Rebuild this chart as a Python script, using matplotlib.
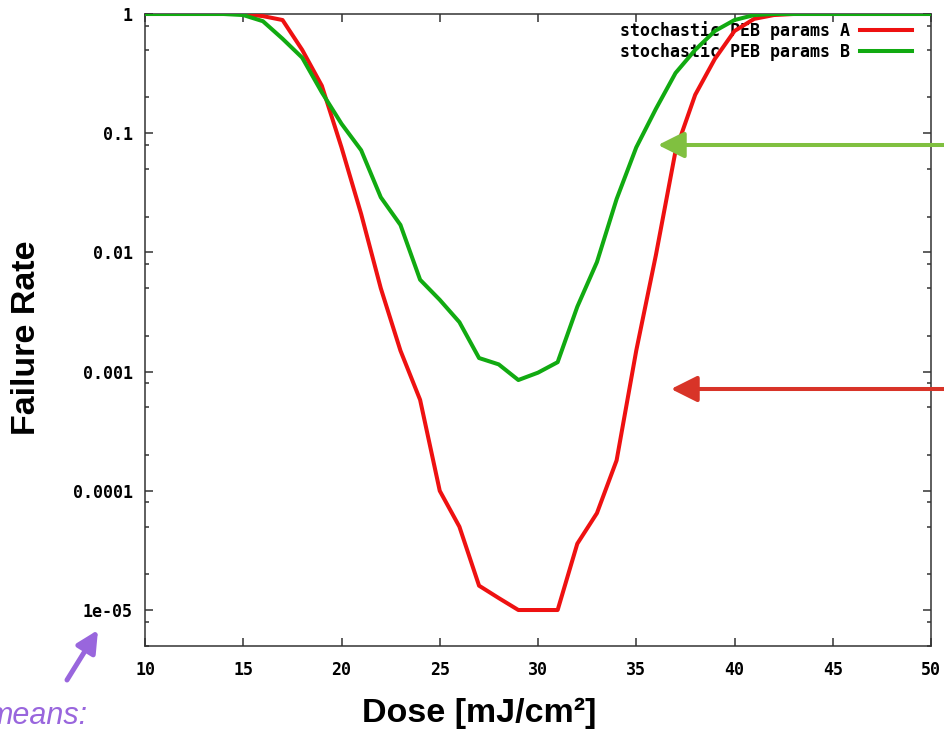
import numpy as np
import matplotlib.pyplot as plt
from matplotlib.ticker import LogLocator, NullFormatter

# failure rate vs. exposure dose for the two PEB parameter sets
dose = np.arange(10, 51)
rate_a = [1, 1, 1, 1, 1, 1, 0.96, 0.89, 0.50, 0.25,
          0.076, 0.021, 0.0050, 0.0015, 0.00058, 0.0001, 0.00005, 0.000016, 0.0000126, 0.00001,
          0.00001, 0.00001, 0.000036, 0.000065, 0.00018, 0.0015, 0.0095, 0.071, 0.21, 0.42,
          0.72, 0.91, 0.98, 1, 1, 1, 1, 1, 1, 1, 1]
rate_b = [1, 1, 1, 1, 1, 0.98, 0.87, 0.62, 0.43, 0.22,
          0.12, 0.072, 0.029, 0.017, 0.0059, 0.0040, 0.0026, 0.0013, 0.00115, 0.00085,
          0.00098, 0.0012, 0.0035, 0.0083, 0.028, 0.076, 0.16, 0.32, 0.50, 0.72,
          0.89, 0.98, 1, 1, 1, 1, 1, 1, 1, 1, 1]
label_a = "stochastic PEB params A"
label_b = "stochastic PEB params B"
ytick_vals = [1, 0.1, 0.01, 0.001, 0.0001, 0.00001]
ytick_text = ["1", "0.1", "0.01", "0.001", "0.0001", "1e-05"]
xtick_vals = [10, 15, 20, 25, 30, 35, 40, 45, 50]

mono = {"family": "DejaVu Sans Mono", "weight": "bold", "size": 12}

fig = plt.figure(figsize=(9.44, 7.3), dpi=100)
ax = fig.add_axes([145/944, 1 - 646/730, (931-145)/944, (646-14)/730])

ax.plot(dose, rate_a, color="#ee1111", lw=2.9, label=label_a, zorder=3)
ax.plot(dose, rate_b, color="#11aa11", lw=2.9, label=label_b, zorder=3)

ax.set_yscale("log")
ax.set_xlim(10, 50)
ax.set_ylim(4.99e-6, 1)
ax.set_xticks(xtick_vals)
ax.set_xticklabels([str(v) for v in xtick_vals], fontdict=mono)
ax.set_yticks(ytick_vals)
ax.set_yticklabels(ytick_text, fontdict=mono)
ax.yaxis.set_minor_locator(LogLocator(base=10, subs=[2, 5, 8]))
ax.yaxis.set_minor_formatter(NullFormatter())
ax.tick_params(which="both", direction="in", top=True, right=True, color="#333333", width=1.1)
ax.tick_params(which="major", length=6)
ax.tick_params(which="minor", length=3)
ax.tick_params(axis="y", pad=9)
ax.tick_params(axis="x", pad=11)
for s in ax.spines.values():
    s.set_color("#333333")
    s.set_linewidth(1.1)

leg = ax.legend(loc="upper right", bbox_to_anchor=(912/944, 1 - 21/730),
                bbox_transform=fig.transFigure, frameon=False, markerfirst=False,
                prop=mono, handlelength=3.1, handletextpad=0.6, labelspacing=0.14,
                borderpad=0, borderaxespad=0)
leg.set_zorder(1)

fig.text(27/944, 1 - 338/730, "Failure Rate", rotation=90, ha="center", va="center",
         family="Liberation Sans", weight="bold", fontsize=24.5)
fig.text(479/944, 1 - 713/730, "Dose [mJ/cm²]", ha="center", va="center",
         family="Liberation Sans", weight="bold", fontsize=24.5)
fig.text(88/944, 1 - 724/730, "means:", ha="right", va="baseline",
         family="Liberation Sans", style="italic", fontsize=22, color="#9966dd")

# pointer arrows
head = "-|>,head_length=1.6,head_width=0.8"
ax.annotate("", xy=(658, 730-145), xycoords="figure pixels",
            xytext=(970, 730-145), textcoords="figure pixels",
            arrowprops=dict(arrowstyle=head, color="#80c040", lw=2.9,
                            shrinkA=0, shrinkB=0, mutation_scale=10))
ax.annotate("", xy=(671, 730-389), xycoords="figure pixels",
            xytext=(970, 730-389), textcoords="figure pixels",
            arrowprops=dict(arrowstyle=head, color="#d83428", lw=2.9,
                            shrinkA=0, shrinkB=0, mutation_scale=10))
ax.annotate("", xy=(98, 730-630), xycoords="figure pixels",
            xytext=(67, 730-680), textcoords="figure pixels",
            arrowprops=dict(arrowstyle="-|>,head_length=1.3,head_width=0.65", color="#9966dd",
                            lw=3.6, shrinkA=0, shrinkB=0, mutation_scale=10))

fig.savefig("out.png", dpi=100)
